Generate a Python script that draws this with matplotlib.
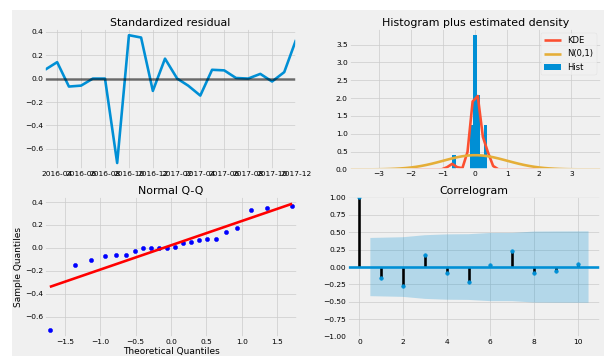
import math
import numpy as np
import pandas as pd
import matplotlib
matplotlib.use("Agg")
import matplotlib.pyplot as plt
import matplotlib.dates as mdates
from matplotlib.patches import Rectangle, Patch
from matplotlib.lines import Line2D

plt.style.use("fivethirtyeight")
plt.rcParams["lines.linewidth"] = 5
plt.rcParams["grid.linewidth"] = 1.3
plt.rcParams["font.size"] = 14.5
plt.rcParams["axes.titlesize"] = 21
plt.rcParams["legend.fontsize"] = 16

# ---- data -------------------------------------------------------------
months = pd.date_range("2016-03-01", periods=22, freq="MS")
std_resid = [0.075, 0.14, -0.068, -0.06, 0.0, 0.0, -0.72, 0.37, 0.35, -0.105,
             0.17, 0.0, -0.06, -0.145, 0.075, 0.07, 0.005, 0.0, 0.04, -0.025,
             0.055, 0.33]
acf_lags = [0, 1, 2, 3, 4, 5, 6, 7, 8, 9, 10]
acf_vals = [1.0, -0.159, -0.27, 0.178, -0.087, -0.221, 0.029, 0.236, -0.082,
            -0.058, 0.048]

resid = np.asarray(std_resid)
n = len(resid)

# ---- helpers ----------------------------------------------------------
def norm_pdf(x):
    return np.exp(-0.5 * x ** 2) / math.sqrt(2 * math.pi)


def norm_ppf(p):
    lo, hi = -10.0, 10.0
    for _ in range(200):
        mid = 0.5 * (lo + hi)
        if 0.5 * (1 + math.erf(mid / math.sqrt(2))) < p:
            lo = mid
        else:
            hi = mid
    return 0.5 * (lo + hi)


def kde(data, x):
    bw = len(data) ** (-1 / 5) * np.std(data, ddof=1)
    z = (x[:, None] - data[None, :]) / bw
    return np.exp(-0.5 * z ** 2).sum(axis=1) / (len(data) * bw * math.sqrt(2 * math.pi))


# ---- figure -----------------------------------------------------------
W, H, DPI = 604, 356, 37.5
fig = plt.figure(figsize=(W / DPI, H / DPI), dpi=DPI)
fig.patch.set_facecolor("white")
fig.add_artist(Rectangle((12 / W, 0), 1 - 12 / W, 1 - 10 / H,
                         transform=fig.transFigure, facecolor="#f0f0f0",
                         edgecolor="none", zorder=-10))


def box(x0, y_top, x1, y_bot):
    return [x0 / W, 1 - y_bot / H, (x1 - x0) / W, (y_bot - y_top) / H]


ax1 = fig.add_axes(box(45, 28.8, 296, 169.4))
ax2 = fig.add_axes(box(349.6, 28.8, 600.8, 169.4))
ax3 = fig.add_axes(box(45, 197.4, 297, 336.7))
ax4 = fig.add_axes(box(348, 197.4, 600, 336.7))

# Standardized residual
ax1.plot(months, resid)
ax1.hlines(0, months[0], months[-1], colors="k", alpha=0.5)
ax1.set_xlim(months[0], months[-1])
ax1.xaxis.set_major_locator(mdates.MonthLocator(bymonth=range(2, 13, 2)))
ax1.xaxis.set_major_formatter(mdates.DateFormatter("%Y-%m"))
ax1.set_title("Standardized residual")

# Histogram plus estimated density
ax2.hist(resid, density=True, label="Hist")
xs = np.linspace(-1.96 * 2, 1.96 * 2)
ax2.plot(xs, kde(resid, xs), label="KDE")
ax2.plot(xs, norm_pdf(xs), label="N(0,1)")
ax2.set_xlim(-1.96 * 2, 1.96 * 2)
handles = [Line2D([], [], color="C1"), Line2D([], [], color="C2"),
           Patch(facecolor="C0")]
ax2.legend(handles, ["KDE", "N(0,1)", "Hist"], loc="upper right")
ax2.set_title("Histogram plus estimated density")

# Normal Q-Q
sample_q = np.sort(resid)
theo_q = np.array([norm_ppf(i / (n + 1)) for i in range(1, n + 1)])
ax3.plot(theo_q, sample_q, "bo", markersize=8)
ax3.plot(theo_q, theo_q * sample_q.std() + sample_q.mean(), "r-")
ax3.set_xmargin(0.02)
ax3.autoscale_view()
ax3.set_xlabel("Theoretical Quantiles")
ax3.set_ylabel("Sample Quantiles")
ax3.set_title("Normal Q-Q")

# Correlogram
acf = np.asarray(acf_vals)
lags = np.asarray(acf_lags, dtype=float)
varacf = np.ones_like(acf) / n
varacf[0] = 0
varacf[2:] *= 1 + 2 * np.cumsum(acf[1:-1] ** 2)
band = 1.96 * np.sqrt(varacf)
ax4.vlines(lags, [0], acf, colors="k")
ax4.axhline(0)
ax4.margins(0.05)
ax4.plot(lags, acf, marker="o", markersize=7, linestyle="None")
band_x = lags[1:].copy()
band_x[0] -= 0.5
band_x[-1] += 0.5
ax4.fill_between(band_x, -band[1:], band[1:], alpha=0.25)
ax4.set_ylim(-1, 1)
ax4.set_title("Correlogram")

fig.savefig("out.png", dpi=DPI, facecolor="white")
